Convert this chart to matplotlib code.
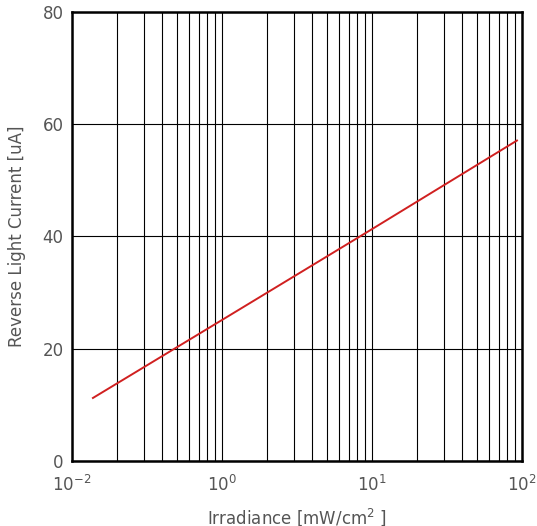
import numpy as np
import matplotlib.pyplot as plt
from matplotlib.ticker import FixedLocator, NullFormatter

# irradiance (mW/cm2) and reverse light current (uA)
irradiance = [0.138, 1.0, 10.0, 92.6]
current = [11.2, 25.1, 41.3, 57.1]

xtick_pos = [0.1, 1, 10, 100]
xtick_labels = ["$10^{-2}$", "$10^{0}$", "$10^{1}$", "$10^{2}$"]
ytick_pos = [0, 20, 40, 60, 80]

fig = plt.figure(figsize=(5.37, 5.26), dpi=100)
ax = fig.add_axes([0.134, 0.124, 0.838, 0.853])

ax.plot(irradiance, current, color="#d02020", lw=1.4, zorder=3)

ax.set_xscale("log")
ax.set_xlim(0.1, 100)
ax.set_ylim(0, 80)

minor = [m * 10.0 ** e for e in (-1, 0, 1) for m in range(2, 10)]
ax.xaxis.set_major_locator(FixedLocator(xtick_pos))
ax.xaxis.set_minor_locator(FixedLocator(minor))
ax.xaxis.set_minor_formatter(NullFormatter())
ax.set_xticks(xtick_pos)
ax.set_xticklabels(xtick_labels)
ax.set_yticks(ytick_pos)

ax.grid(True, which="both", axis="x", color="black", lw=0.8)
ax.grid(True, which="major", axis="y", color="black", lw=0.8)

ax.tick_params(which="both", length=0, labelsize=12, labelcolor="#555555")
ax.tick_params(axis="x", pad=10)
ax.tick_params(axis="y", pad=6)
for s in ax.spines.values():
    s.set_linewidth(1.8)
    s.set_color("black")

ax.set_xlabel("Irradiance [mW/cm$^2$ ]", fontsize=12, color="#555555", labelpad=8)
ax.set_ylabel("Reverse Light Current [uA]", fontsize=12, color="#555555", labelpad=12)

fig.savefig("out.png", dpi=100, facecolor="white")
